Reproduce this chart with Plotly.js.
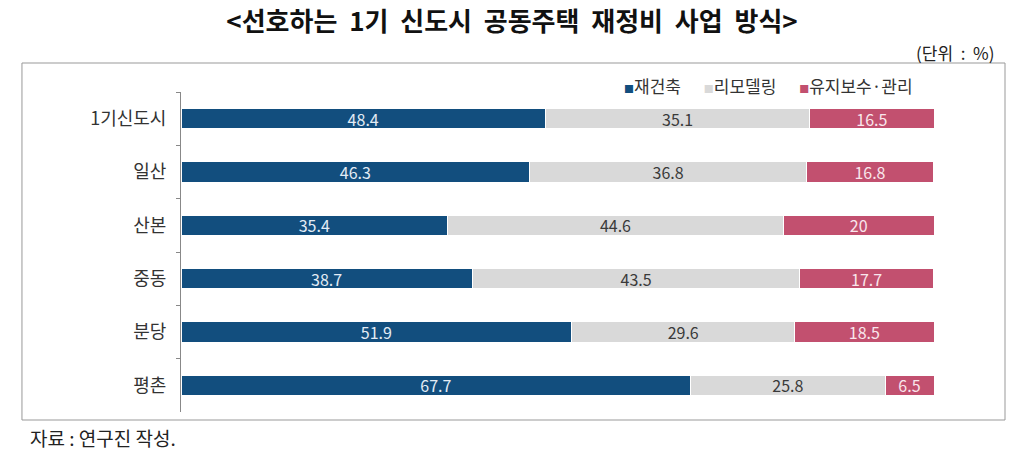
<!DOCTYPE html>
<html><head><meta charset="utf-8">
<script src="https://cdn.plot.ly/plotly-3.0.1.min.js"></script>
<style>html,body{margin:0;padding:0;background:#fff}#c{width:1024px;height:456px}</style>
</head><body><div id="c"></div>
<script>
const categories = ['1기신도시','일산','산본','중동','분당','평촌'];
const rebuild = [48.4, 46.3, 35.4, 38.7, 51.9, 67.7];
const remodel = [35.1, 36.8, 44.6, 43.5, 29.6, 25.8];
const maintain = [16.5, 16.8, 20, 17.7, 18.5, 6.5];
const seriesNames = ['재건축','리모델링','유지보수·관리'];
const seriesColors = ['#124e7e', '#d9d9d9', '#c2506f'];
const textColors = ['#e3ecf5', '#3a3a3a', '#f9e6ec'];

const FONT = '"Noto Sans CJK KR", "Noto Sans", sans-serif';
function mk(i, vals){
  return {type:'bar', orientation:'h', name:seriesNames[i], x:vals, y:categories,
    marker:{color:seriesColors[i], line:{color:'#ffffff', width:1}},
    width:0.38,
    text:vals.map(v=>String(v)), textposition:'inside', insidetextanchor:'middle',
    textangle:0, constraintext:'none',
    textfont:{family:FONT, size:16, color:textColors[i]}, hoverinfo:'skip', showlegend:false};
}
const data = [mk(0, rebuild), mk(1, remodel), mk(2, maintain)];

const legendText = seriesNames.map((n,i)=>'<span style="color:'+seriesColors[i]+';font-size:10px">■</span>'+n).join('      ');

const layout = {
  width:1024, height:456, barmode:'stack',
  margin:{l:181, r:90, t:92, b:44},
  paper_bgcolor:'#fff', plot_bgcolor:'#fff',
  font:{family:FONT, size:14, color:'#333'},
  title:{text:'<b><선호하는  1기  신도시  공동주택  재정비  사업  방식></b>', x:0.5, xref:'container', y:0.952, yanchor:'middle', font:{family:FONT, size:26, color:'#111'}},
  xaxis:{range:[0,100], visible:false, fixedrange:true},
  yaxis:{autorange:'reversed', showline:true, linecolor:'#888', linewidth:1, ticks:'outside', tickson:'boundaries', ticklen:4, tickcolor:'#888', ticklabelstandoff:10, tickfont:{family:FONT, size:18, color:'#333'}, showgrid:false},
  showlegend:false,
  shapes:[{type:'rect', xref:'paper', yref:'paper', x0:-0.2112, x1:1.0943, y0:-0.025, y1:1.0906, line:{color:'#999', width:1}}],
  annotations:[
    {text:legendText, xref:'paper', yref:'paper', x:(915-181)/753, xanchor:'right', y:(412-86)/320, yanchor:'middle', showarrow:false, font:{family:FONT, size:17, color:'#333'}},
    {text:'(단위  :  %)', xref:'paper', yref:'paper', x:(996-181)/753, xanchor:'right', y:(412-52)/320, yanchor:'middle', showarrow:false, font:{family:FONT, size:17, color:'#222'}},
    {text:'자료 : 연구진 작성.', xref:'paper', yref:'paper', x:(28-181)/753, xanchor:'left', y:(412-437)/320, yanchor:'middle', showarrow:false, font:{family:FONT, size:19, color:'#222'}}
  ]
};
Plotly.newPlot('c', data, layout, {displayModeBar:false, staticPlot:true});
</script></body></html>
